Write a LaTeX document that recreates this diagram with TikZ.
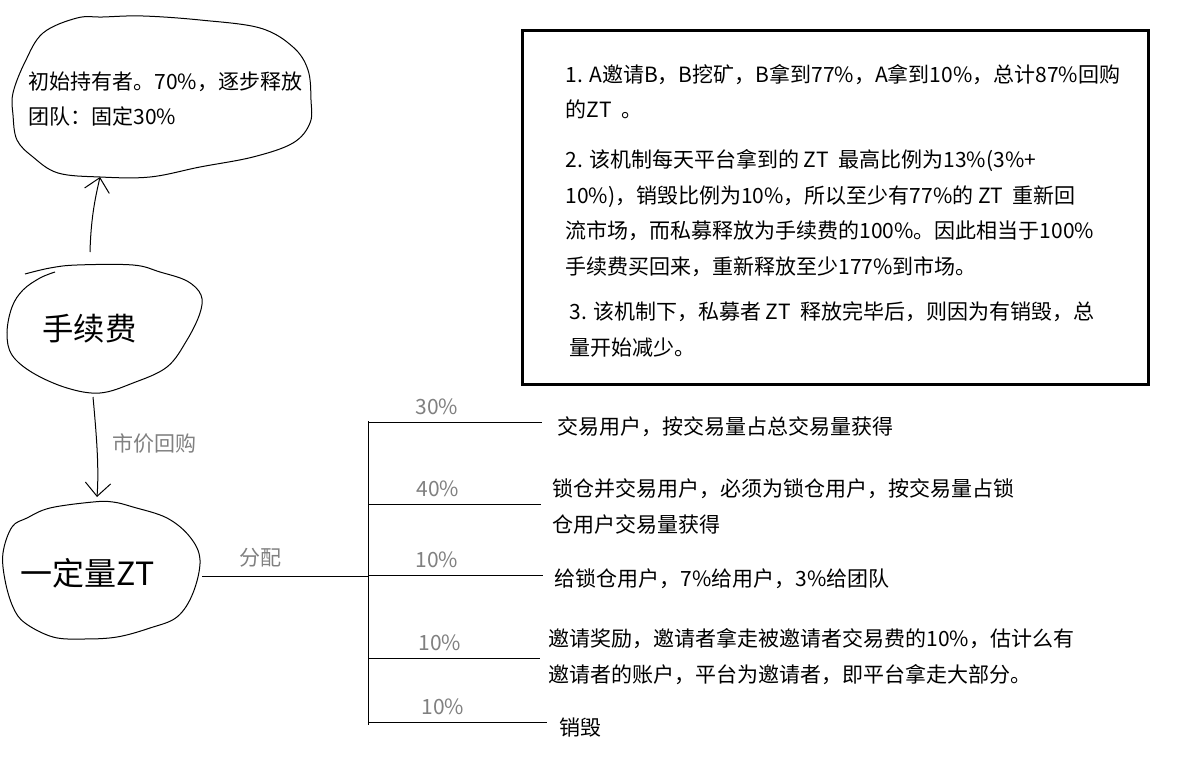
\documentclass[tikz,border=0pt]{standalone}
\usepackage{fontspec}
\setmainfont{Noto Sans CJK SC}
\usetikzlibrary{positioning,arrows.meta}
\definecolor{mygray}{RGB}{128,128,128}

\begin{document}
\begin{tikzpicture}[x=0.75pt,y=-0.75pt,line width=0.75pt,
  txt/.style={anchor=base west,inner sep=0pt,align=left,font=\fontsize{15.75}{26.6}\selectfont},
  bigtxt/.style={anchor=base west,inner sep=0pt,font=\fontsize{23.5}{28}\selectfont},
  pct/.style={anchor=base,inner sep=0pt,text=mygray,font=\fontsize{15.75}{20}\selectfont},
  note/.style={anchor=base west,inner sep=0pt,text=mygray,font=\fontsize{15.75}{20}\selectfont},
  hand/.style={-{Straight Barb[length=10pt,width=19pt]}}
]
\useasboundingbox (0,0) rectangle (1178,781);

% the three blobs
\draw plot[smooth cycle,tension=0.6] coordinates {(103,17) (143,16) (200,20) (260,28) (293,47) (308,70) (311,100) (310,123) (293,143) (253,157) (200,167) (150,177) (100,177) (58,173) (33,157) (17,140) (13,115) (13,93) (25,62) (43,33) (77,18)};
\draw plot[smooth,tension=0.6] coordinates {(25,274) (50,268) (77,265) (133,265) (160,272) (187,281) (201,295) (200,313) (187,340) (167,367) (133,383) (100,393) (67,388) (33,373) (12,355) (7,333) (12,307) (23,290) (40,278) (55,272)};
\draw plot[smooth cycle,tension=0.6] coordinates {(93,502) (113,502) (133,507) (167,518) (190,537) (200,560) (193,593) (177,617) (150,628) (117,637) (83,639) (53,637) (25,623) (13,607) (5,580) (3,553) (12,527) (27,518) (50,508)};

% multi-line texts sit on the baseline of their last line
\node[txt] (holder) at (28,125) {初始持有者。70\%，逐步释放\\团队：固定30\%};
\node[bigtxt] (fee) at (42,340) {手续费};
\node[bigtxt,font=\fontsize{24}{28}\selectfont] (zt) at (20,585) {一定量ZT};

% the arrows between blobs
\coordinate (feetop) at (90,252);
\coordinate (holderbot) at (100,177);
\coordinate (feebot) at (93,397);
\coordinate (zttop) at (97,497);
\draw[hand] (feetop) .. controls (91,215) and (96,195) .. (holderbot);
\draw[hand] (feebot) .. controls (97,440) and (99,470) .. (zttop);
\node[note] (buyback) at (112,451) {市价回购};

% the split
\coordinate (ztright) at (202,576);
\coordinate (trunktop) at (368,421);
\coordinate (trunkbot) at (368,725);
\coordinate (trunkmid) at (368,576);
\draw (ztright) -- (trunkmid);
\node[note] (split) at (239,565) {分配};
\draw (trunktop) -- (trunkbot);
\foreach \i/\y/\p/\lx/\e in {1/422/30/437/542,2/504/40/438/541,3/575/10/437/543,4/658/10/440/540,5/722/10/443/547}{
  \coordinate (br\i) at (368,\y);
  \coordinate (end\i) at (\e,\y);
  \draw (br\i) -- (end\i);
  \node[pct] (pct\i) at (\lx,\y-8) {\p\%};
}

% the receivers
\node[txt] (trade) at (557,434) {交易用户，按交易量占总交易量获得};
\node[txt] (lock) at (552,532) {锁仓并交易用户，必须为锁仓用户，按交易量占锁\\仓用户交易量获得};
\node[txt] (give) at (554,586) {给锁仓用户，7\%给用户，3\%给团队};
\node[txt] (invite) at (548,682) {邀请奖励，邀请者拿走被邀请者交易费的10\%，估计么有\\邀请者的账户，平台为邀请者，即平台拿走大部分。};
\node[txt] (burn) at (559,735) {销毁};

% the notes box
\draw[line width=2.25pt] (522.5,30.5) rectangle (1148.5,384.5);
\node[txt] (p1) at (565,118) {1. A邀请B，B挖矿，B拿到77\%，A拿到10\%，总计87\%回购\\的ZT~~。};
\node[txt] (p2) at (565,274) {2. 该机制每天平台拿到的 ZT~~最高比例为13\%(3\%+\\10\%)，销毁比例为10\%，所以至少有77\%的 ZT~~重新回\\流市场，而私募释放为手续费的100\%。因此相当于100\%\\手续费买回来，重新释放至少177\%到市场。};
\node[txt] (p3) at (569,355) {3. 该机制下，私募者 ZT~~释放完毕后，则因为有销毁，总\\量开始减少。};
\end{tikzpicture}
\end{document}
